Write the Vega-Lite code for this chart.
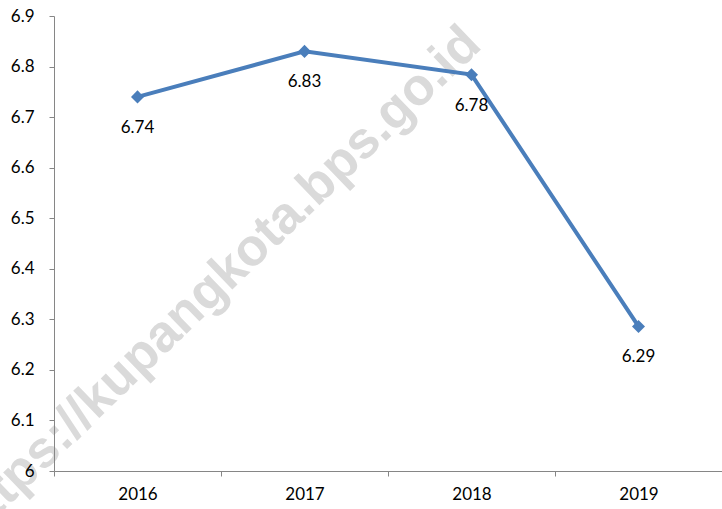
{
  "$schema": "https://vega.github.io/schema/vega-lite/v6.json",
  "width": 668,
  "height": 455,
  "autosize": {"type": "none"},
  "padding": {"left": 54, "top": 16, "right": 0, "bottom": 38},
  "background": "white",
  "config": {"view": {"stroke": null}, "font": "Lato"},
  "layer": [
    {
      "data": {"values": [{"text": "https://kupangkota.bps.go.id", "year": "2017", "v": 6.35}]},
      "mark": {"type": "text", "font": "Liberation Sans", "fontWeight": "bold", "fontSize": 52, "angle": -44, "align": "center", "baseline": "alphabetic", "color": "#dadada", "clip": false},
      "encoding": {
        "x": {"field": "year", "type": "nominal", "bandPosition": 0.04, "sort": ["2016", "2017", "2018", "2019"],
              "scale": {"type": "band", "domain": ["2016", "2017", "2018", "2019"], "paddingInner": 0, "paddingOuter": 0},
              "axis": {"title": null, "zindex": 1, "labelAngle": 0, "labelFontSize": 17, "labelColor": "#000000", "labelPadding": 10, "tickBand": "extent", "tickSize": 5, "tickColor": "#868686", "domainColor": "#868686", "grid": false, "labelFont": "Lato"}},
        "y": {"field": "v", "type": "quantitative",
              "scale": {"domain": [6, 6.9], "nice": false, "zero": false},
              "axis": {"title": null, "zindex": 1, "values": [6, 6.1, 6.2, 6.3, 6.4, 6.5, 6.6, 6.7, 6.8, 6.9], "format": ".1~f", "labelFontSize": 17, "labelColor": "#000000", "labelPadding": 15, "tickSize": 5, "tickColor": "#868686", "domainColor": "#868686", "grid": false, "labelFont": "Lato"}},
        "text": {"field": "text"}
      }
    },
    {
      "data": {"values": [
        {"year": "2016", "value": 6.74},
        {"year": "2017", "value": 6.83},
        {"year": "2018", "value": 6.784},
        {"year": "2019", "value": 6.286}
      ]},
      "layer": [
        {
          "mark": {"type": "line", "color": "#4a7ebb", "strokeWidth": 4},
          "encoding": {
            "x": {"field": "year", "type": "nominal", "bandPosition": 0.5, "sort": ["2016", "2017", "2018", "2019"]},
            "y": {"field": "value", "type": "quantitative"}
          }
        },
        {
          "mark": {"type": "point", "shape": "diamond", "filled": true, "size": 170, "color": "#4a7ebb", "opacity": 1},
          "encoding": {
            "x": {"field": "year", "type": "nominal", "bandPosition": 0.5, "sort": ["2016", "2017", "2018", "2019"]},
            "y": {"field": "value", "type": "quantitative"}
          }
        },
        {
          "mark": {"type": "text", "fontSize": 17, "dy": 36, "baseline": "alphabetic", "align": "center", "color": "#000000"},
          "encoding": {
            "x": {"field": "year", "type": "nominal", "bandPosition": 0.5, "sort": ["2016", "2017", "2018", "2019"]},
            "y": {"field": "value", "type": "quantitative"},
            "text": {"field": "value", "type": "quantitative", "format": ".2f"}
          }
        }
      ]
    }
  ],
  "resolve": {"scale": {"x": "shared", "y": "shared"}},
  "description": "Line chart 2016-2019"
}
